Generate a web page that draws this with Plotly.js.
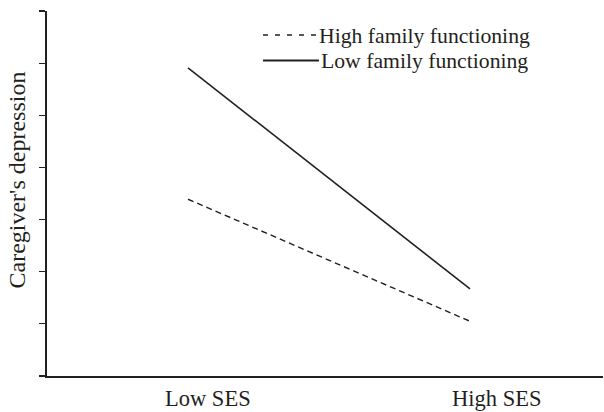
<!DOCTYPE html>
<html>
<head>
<meta charset="utf-8">
<script src="https://cdn.plot.ly/plotly-3.0.1.min.js"></script>
<style>html,body{margin:0;padding:0;background:#fff;}#chart{width:604px;height:412px;}</style>
</head>
<body>
<div id="chart"></div>
<script>
var categories = ["Low SES", "High SES"];
var highFamily = [3.39, 1.05];
var lowFamily = [5.91, 1.67];
var seriesNames = ["High family functioning", "Low family functioning"];
var yTitle = "Caregiver's depression";

var ink = "#231f20";
var fam = "Liberation Serif, Times New Roman, serif";
var tickFont = {family: fam, size: 22.5, color: ink};
var legFont = {family: fam, size: 21.7, color: ink};
var titleFont = {family: fam, size: 24, color: ink};

var L = 47, T = 11, W = 556, H = 365;
function px(x){ return (x - L) / W; }
function py(y){ return (T + H - y) / H; }

var traces = [
  {x: categories, y: highFamily, type: "scatter", mode: "lines", name: seriesNames[0],
   line: {color: ink, width: 1.4, dash: "6px,4px"}, showlegend: false},
  {x: categories, y: lowFamily, type: "scatter", mode: "lines", name: seriesNames[1],
   line: {color: ink, width: 1.6}, showlegend: false}
];

var layout = {
  width: 604, height: 412,
  margin: {l: L, r: 604 - L - W, t: T, b: 412 - T - H},
  paper_bgcolor: "#fff", plot_bgcolor: "#fff",
  font: legFont,
  showlegend: false,
  xaxis: {type: "category", range: [-0.5, 1.4716], showline: true, linecolor: ink, linewidth: 2,
          showgrid: false, zeroline: false, ticks: "", showticklabels: false, fixedrange: true},
  yaxis: {range: [0, 7], dtick: 1, tick0: 0, showline: true, linecolor: ink, linewidth: 2,
          showgrid: false, zeroline: false, ticks: "outside", ticklen: 6, tickwidth: 1.2, tickcolor: ink,
          showticklabels: false, fixedrange: true},
  shapes: [
    {type: "line", xref: "paper", yref: "paper", x0: px(263), x1: px(316), y0: py(35), y1: py(35),
     line: {color: ink, width: 1.3, dash: "5px,7px"}},
    {type: "line", xref: "paper", yref: "paper", x0: px(263), x1: px(319), y0: py(60.5), y1: py(60.5),
     line: {color: ink, width: 2.2}}
  ],
  annotations: [
    {xref: "paper", yref: "paper", x: px(317), y: py(35.5), xanchor: "left", yanchor: "middle",
     text: seriesNames[0], showarrow: false, font: legFont},
    {xref: "paper", yref: "paper", x: px(319), y: py(60.5), xanchor: "left", yanchor: "middle",
     text: seriesNames[1], showarrow: false, font: legFont},
    {xref: "x", yref: "paper", x: categories[0], xshift: 19.5, y: py(398), yanchor: "middle",
     text: categories[0], showarrow: false, font: tickFont},
    {xref: "x", yref: "paper", x: categories[1], xshift: 26.5, y: py(398), yanchor: "middle",
     text: categories[1], showarrow: false, font: tickFont},
    {xref: "paper", yref: "paper", x: px(16.5), y: py(180), xanchor: "center", yanchor: "middle",
     textangle: -90, text: yTitle, showarrow: false, font: titleFont}
  ]
};

Plotly.newPlot("chart", traces, layout, {displayModeBar: false, staticPlot: true});
</script>
</body>
</html>
